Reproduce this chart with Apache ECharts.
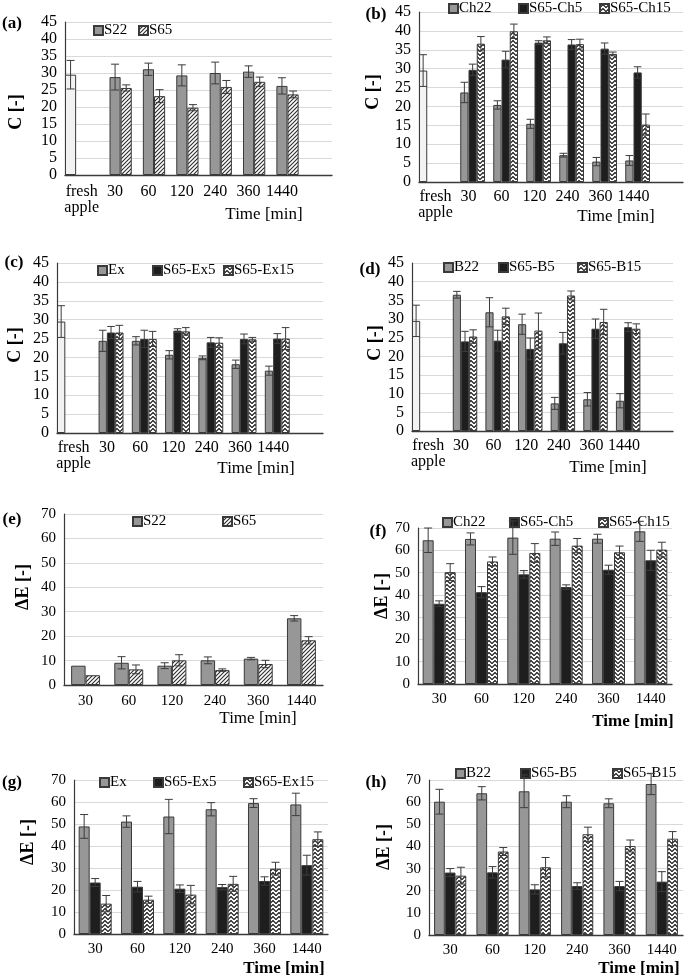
<!DOCTYPE html>
<html><head><meta charset="utf-8">
<script src="https://cdn.jsdelivr.net/npm/echarts@6/dist/echarts.min.js"></script>
<style>html,body{margin:0;padding:0;background:#fff}#c{width:685px;height:980px}</style>
</head><body><div id="c"></div><script>
// ---------- data ----------
const catsFresh = ['fresh\napple','30','60','120','240','360','1440',''];
const catsTime = ['30','60','120','240','360','1440'];
const freshVal = [29.5];
const freshErr = [4.2];

const aS22 = [28.8,31.1,29.3,30.0,30.4,26.2];
const aS22Err = [3.8,1.8,3.1,3.2,1.7,2.4];
const aS65 = [25.6,23.2,19.8,25.9,27.4,23.7];
const aS65Err = [0.9,1.9,0.9,1.9,1.4,1.0];

const bCh22 = [23.7,20.4,15.4,7.1,5.4,5.7];
const bCh22Err = [2.7,1.1,1.2,0.5,1.1,1.3];
const bCh5 = [29.7,32.4,36.9,36.4,35.3,29.0];
const bCh5Err = [1.5,2.2,0.5,1.3,1.5,1.5];
const bCh15 = [36.6,39.9,37.5,36.5,33.9,15.2];
const bCh15Err = [1.9,1.9,0.9,1.3,0.5,2.8];

const cEx = [24.4,24.4,20.7,19.9,18.2,16.5];
const cExErr = [2.8,1.1,1.1,0.5,1.1,1.2];
const cEx5 = [26.6,24.9,27.1,24.0,24.9,25.0];
const cEx5Err = [1.6,2.3,0.5,1.3,1.3,1.3];
const cEx15 = [26.6,24.9,26.9,23.9,24.8,25.0];
const cEx15Err = [1.9,2.0,1.0,1.3,0.5,2.9];

const dB22 = [36.5,31.8,28.6,7.4,8.5,8.1];
const dB22Err = [0.9,3.9,2.7,1.6,1.8,1.9];
const dB5 = [24.0,24.2,22.0,23.5,27.4,27.8];
const dB5Err = [2.7,2.8,2.9,2.9,2.6,1.2];
const dB15 = [25.3,30.7,26.9,36.3,29.2,27.4];
const dB15Err = [1.8,2.2,4.7,1.2,3.4,1.3];

const eS22 = [7.9,9.1,7.9,10.1,10.8,27.3];
const eS22Err = [0,2.5,1.2,1.4,0.5,1.1];
const eS65 = [4.0,6.4,10.1,6.1,8.6,18.3];
const eS65Err = [0,1.8,2.3,0.5,1.5,1.5];

const fCh22 = [64.5,65.1,65.7,65.2,65.2,68.5];
const fCh22Err = [5.5,2.7,7.5,3.0,2.0,4.5];
const fCh5 = [36.0,41.2,49.2,43.5,51.3,55.5];
const fCh5Err = [1.3,2.5,1.7,1.0,2.0,4.5];
const fCh15 = [50.2,55.0,58.8,62.1,59.1,60.3];
const fCh15Err = [3.8,2.0,4.2,3.2,2.8,3.3];

const gEx = [48.9,51.1,53.4,56.7,59.5,58.9];
const gExErr = [5.4,2.6,7.8,3.0,2.0,5.1];
const gEx5 = [23.4,21.5,20.6,21.3,24.1,31.3];
const gEx5Err = [1.8,2.4,1.7,1.2,1.9,4.5];
const gEx15 = [13.8,15.6,17.9,22.8,29.7,43.1];
const gEx15Err = [3.7,1.6,4.2,3.4,2.9,3.3];

const hB22 = [60.2,64.0,64.9,60.2,59.5,68.2];
const hB22Err = [5.6,3.0,7.4,2.7,2.0,4.8];
const hB5 = [28.2,28.3,20.6,22.1,22.1,24.1];
const hB5Err = [1.8,2.6,2.1,1.5,2.1,4.5];
const hB15 = [26.8,37.7,30.6,45.5,40.2,43.5];
const hB15Err = [3.8,1.8,4.4,3.2,2.7,3.2];

// ---------- styles ----------
const F = '"Liberation Serif","Times New Roman",serif';
function hatchCanvas(){
  const c=document.createElement('canvas'); c.width=4; c.height=4;
  const x=c.getContext('2d'); x.fillStyle='#fff'; x.fillRect(0,0,4,4);
  x.strokeStyle='#2a2a2a'; x.lineWidth=1.1;
  x.beginPath(); x.moveTo(-1,5); x.lineTo(5,-1); x.stroke();
  x.beginPath(); x.moveTo(-1,1); x.lineTo(1,-1); x.stroke();
  x.beginPath(); x.moveTo(3,5); x.lineTo(5,3); x.stroke();
  return c;
}
function zigCanvas(){
  const c=document.createElement('canvas'); c.width=6; c.height=4;
  const x=c.getContext('2d'); x.fillStyle='#fff'; x.fillRect(0,0,6,4);
  x.strokeStyle='#1a1a1a'; x.lineWidth=1.2;
  x.beginPath(); x.moveTo(-1,4.5); x.lineTo(0,3.5); x.lineTo(3,0.5); x.lineTo(6,3.5); x.lineTo(7,4.5); x.stroke();
  return c;
}
const STY = {
  fresh:{color:'#f2f2f2'},
  gray:{color:'#979797'},
  black:{color:'#1e1e1e'},
  hatch:{color:{image:hatchCanvas(), repeat:'repeat'}},
  zig:{color:{image:zigCanvas(), repeat:'repeat'}}
};

// ---------- panel layout ----------
const panels = [
 {grid:{left:65,top:22,width:267,height:153}, fresh:true, yMax:45, yInt:5, gap:0, fs:15, xMargin:9,
  series:[{name:'S22',vals:aS22,errs:aS22Err,st:'gray'},{name:'S65',vals:aS65,errs:aS65Err,st:'hatch'}],
  legX:[93,138], legY:31, yName:'C [-]', yNamePos:[16,112], timePos:[264,215], bold:false, label:'(a)', labelPos:[12,24]},
 {grid:{left:419,top:12,width:264,height:170}, fresh:true, yMax:45, yInt:5, gap:0, fs:15, xMargin:7,
  series:[{name:'Ch22',vals:bCh22,errs:bCh22Err,st:'gray'},{name:'S65-Ch5',vals:bCh5,errs:bCh5Err,st:'black'},{name:'S65-Ch15',vals:bCh15,errs:bCh15Err,st:'zig'}],
  legX:[448,518,599], legY:9, yName:'C [-]', yNamePos:[373,92], timePos:[616,217], bold:false, label:'(b)', labelPos:[376,15]},
 {grid:{left:57,top:263,width:266,height:170}, fresh:true, yMax:45, yInt:5, gap:0, fs:15, xMargin:7,
  series:[{name:'Ex',vals:cEx,errs:cExErr,st:'gray'},{name:'S65-Ex5',vals:cEx5,errs:cEx5Err,st:'black'},{name:'S65-Ex15',vals:cEx15,errs:cEx15Err,st:'zig'}],
  legX:[97,152,223], legY:271, yName:'C [-]', yNamePos:[15,345], timePos:[256,469], bold:false, label:'(c)', labelPos:[14,263]},
 {grid:{left:412,top:263,width:261,height:168}, fresh:true, yMax:45, yInt:5, gap:0, fs:15, xMargin:7,
  series:[{name:'B22',vals:dB22,errs:dB22Err,st:'gray'},{name:'S65-B5',vals:dB5,errs:dB5Err,st:'black'},{name:'S65-B15',vals:dB15,errs:dB15Err,st:'zig'}],
  legX:[443,498,577], legY:268, yName:'C [-]', yNamePos:[375,343], timePos:[608,468], bold:false, label:'(d)', labelPos:[370,270]},
 {grid:{left:64,top:514,width:259,height:171}, fresh:false, yMax:70, yInt:10, gap:0.33, fs:14, xMargin:8,
  series:[{name:'S22',vals:eS22,errs:eS22Err,st:'gray'},{name:'S65',vals:eS65,errs:eS65Err,st:'hatch'}],
  legX:[132,222], legY:522, yName:'ΔE [-]', yNamePos:[23,587], timePos:[258,719], bold:false, label:'(e)', labelPos:[12,520]},
 {grid:{left:418,top:528,width:254,height:156}, fresh:false, yMax:70, yInt:10, gap:0.22, fs:14, xMargin:7,
  series:[{name:'Ch22',vals:fCh22,errs:fCh22Err,st:'gray'},{name:'S65-Ch5',vals:fCh5,errs:fCh5Err,st:'black'},{name:'S65-Ch15',vals:fCh15,errs:fCh15Err,st:'zig'}],
  legX:[442,509,598], legY:523, yName:'ΔE [-]', yNamePos:[382,596], timePos:[633,722], bold:true, label:'(f)', labelPos:[378,532]},
 {grid:{left:74,top:780,width:254,height:154}, fresh:false, yMax:70, yInt:10, gap:0.22, fs:14, xMargin:7,
  series:[{name:'Ex',vals:gEx,errs:gExErr,st:'gray'},{name:'S65-Ex5',vals:gEx5,errs:gEx5Err,st:'black'},{name:'S65-Ex15',vals:gEx15,errs:gEx15Err,st:'zig'}],
  legX:[99,153,243], legY:783, yName:'ΔE [-]', yNamePos:[28,842], timePos:[284,969], bold:true, label:'(g)', labelPos:[12,783]},
 {grid:{left:429,top:780,width:254,height:155}, fresh:false, yMax:70, yInt:10, gap:0.24, fs:14, xMargin:7,
  series:[{name:'B22',vals:hB22,errs:hB22Err,st:'gray'},{name:'S65-B5',vals:hB5,errs:hB5Err,st:'black'},{name:'S65-B15',vals:hB15,errs:hB15Err,st:'zig'}],
  legX:[455,520,612], legY:774, yName:'ΔE [-]', yNamePos:[384,847], timePos:[639,969], bold:true, label:'(h)', labelPos:[376,783]}
];

// ---------- build option ----------
const grid=[], xAxis=[], yAxis=[], series=[], legend=[], graphic=[];
function errRender(nSlots, slot, gap){
  return function(params, api){
    const ci=api.value(0), v=api.value(1), e=api.value(2);
    if(!e) return null;
    const c=api.coord([ci,v]);
    const catW=api.size([1,0])[0];
    const total=catW*(1-gap);
    const bw=total/nSlots;
    const x=c[0]-total/2+(slot+0.5)*bw;
    const yHi=api.coord([ci,v+e])[1], yLo=api.coord([ci,v-e])[1];
    const cw=Math.min(4, bw*0.4+0.5);
    const st={stroke:'#3c3c3c', lineWidth:1};
    return {type:'group', children:[
      {type:'line', shape:{x1:x,y1:yHi,x2:x,y2:yLo}, style:st},
      {type:'line', shape:{x1:x-cw,y1:yHi,x2:x+cw,y2:yHi}, style:st},
      {type:'line', shape:{x1:x-cw,y1:yLo,x2:x+cw,y2:yLo}, style:st}
    ]};
  };
}
panels.forEach((p,i)=>{
  grid.push(Object.assign({containLabel:false}, p.grid));
  xAxis.push({gridIndex:i, type:'category', data:p.fresh?catsFresh:catsTime,
    axisLine:{lineStyle:{color:'#3a3a3a', width:1.3}}, axisTick:{show:false},
    splitLine:{show:false},
    axisLabel:{interval:0, fontFamily:F, fontSize:p.fs+1, color:'#000', margin:p.xMargin, lineHeight:16}});
  yAxis.push({gridIndex:i, type:'value', min:0, max:p.yMax, interval:p.yInt,
    axisLine:{show:true, lineStyle:{color:'#3a3a3a', width:1.2}}, axisTick:{show:false},
    axisLabel:{fontFamily:F, fontSize:p.fs+1, color:'#000', margin:8},
    splitLine:{show:true, lineStyle:{color:'#d9d9d9', width:1}}});
  const nSlots = p.series.length + (p.fresh?1:0);
  const off = p.fresh?1:0;
  const barBase = {type:'bar', xAxisIndex:i, yAxisIndex:i, barGap:'0%', barCategoryGap:(p.gap*100)+'%',
    animation:false, silent:true};
  if(p.fresh){
    const d = catsFresh.map((_,k)=> k===0 ? freshVal[0] : null);
    series.push(Object.assign({}, barBase, {name:'fresh apple', data:d,
      itemStyle:Object.assign({borderColor:'#3a3a3a', borderWidth:1}, STY.fresh)}));
  }
  p.series.forEach(s=>{
    const d = p.fresh ? [null].concat(s.vals, [null]) : s.vals.slice();
    series.push(Object.assign({}, barBase, {name:s.name, data:d,
      itemStyle:Object.assign({borderColor:'#3a3a3a', borderWidth:1}, STY[s.st])}));
  });
  if(p.fresh){
    series.push({type:'custom', name:'err-fresh-'+i, xAxisIndex:i, yAxisIndex:i, clip:false, z:5, silent:true, animation:false,
      renderItem:errRender(nSlots,0,p.gap), data:[[0, freshVal[0], freshErr[0]]]});
  }
  p.series.forEach((s,si)=>{
    series.push({type:'custom', name:'err-'+i+'-'+si, xAxisIndex:i, yAxisIndex:i, clip:false, z:5, silent:true, animation:false,
      renderItem:errRender(nSlots, si+off, p.gap),
      data:s.vals.map((v,k)=>[k+off, v, s.errs[k]])});
  });
  p.series.forEach((s,si)=>{
    legend.push({data:[s.name], left:p.legX[si], top:p.legY-8, padding:0, itemWidth:9, itemHeight:9,
      icon:'rect', selectedMode:false, itemGap:0,
      textStyle:{fontFamily:F, fontSize:15, color:'#000', padding:[0,0,0,-4]}});
  });
  graphic.push({type:'text', x:p.yNamePos[0], y:p.yNamePos[1], rotation:Math.PI/2,
    style:{text:p.yName, font:'bold 18px '+F, fill:'#000', textAlign:'center', textVerticalAlign:'middle', align:'center', verticalAlign:'middle'}});
  graphic.push({type:'text', x:p.timePos[0], y:p.timePos[1],
    style:{text:'Time [min]', font:(p.bold?'bold ':'')+'17px '+F, fill:'#000', textAlign:'center', textVerticalAlign:'middle', align:'center', verticalAlign:'middle'}});
  graphic.push({type:'text', x:p.labelPos[0], y:p.labelPos[1],
    style:{text:p.label, font:'bold 17px '+F, fill:'#000', textAlign:'center', textVerticalAlign:'middle', align:'center', verticalAlign:'middle'}});
});

const chart = echarts.init(document.getElementById('c'), null, {renderer:'canvas'});
chart.setOption({animation:false, backgroundColor:'#fff', grid, xAxis, yAxis, series, legend, graphic, tooltip:{show:false}});
</script></body></html>
